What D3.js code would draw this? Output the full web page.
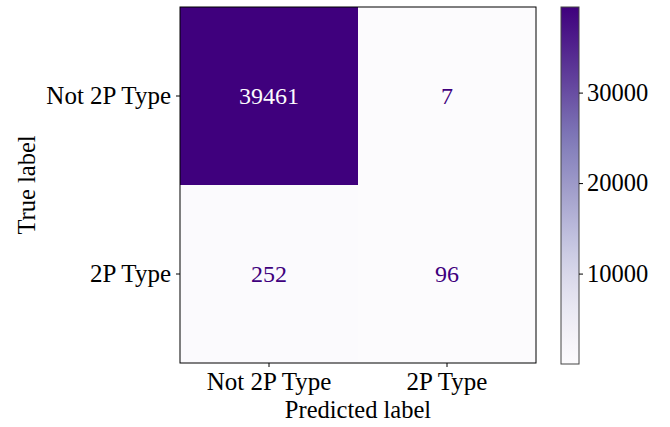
<!DOCTYPE html>
<html>
<head>
<meta charset="utf-8">
<script src="https://cdn.jsdelivr.net/npm/d3@7"></script>
<style>
  body { margin: 0; background: #fff; }
  text { font-family: "Liberation Serif", "DejaVu Serif", serif; }
</style>
</head>
<body>
<div id="chart"></div>
<script>
const trueLabels = ['Not 2P Type', '2P Type'];
const predLabels = ['Not 2P Type', '2P Type'];
const counts = [
  [39461, 7],
  [252, 96]
];
const cbarTicks = [10000, 20000, 30000];

const width = 670;
const height = 427;
const plot = {left: 180, top: 7, size: 356};
const cbar = {left: 561, width: 18, top: 7, bottom: 364};

const svg = d3.select('#chart')
  .append('svg')
  .attr('width', width)
  .attr('height', height);

const flat = counts.flat();
const vmin = d3.min(flat), vmax = d3.max(flat);
const color = d3.scaleSequential(d3.interpolatePurples).domain([vmin, vmax]);

const x = d3.scaleBand()
  .domain(d3.range(predLabels.length))
  .range([plot.left, plot.left + plot.size]);
const y = d3.scaleBand()
  .domain(d3.range(trueLabels.length))
  .range([plot.top, plot.top + plot.size]);

const cells = [];
counts.forEach((row, i) => row.forEach((v, j) => cells.push({i, j, v})));

svg.append('g')
  .selectAll('rect')
  .data(cells)
  .join('rect')
  .attr('x', d => x(d.j))
  .attr('y', d => y(d.i))
  .attr('width', x.bandwidth())
  .attr('height', y.bandwidth())
  .attr('fill', d => color(d.v));

const thresh = (vmax + vmin) / 2;
svg.append('g')
  .selectAll('text')
  .data(cells)
  .join('text')
  .attr('x', d => x(d.j) + x.bandwidth() / 2)
  .attr('y', d => y(d.i) + y.bandwidth() / 2)
  .attr('dy', '0.35em')
  .attr('text-anchor', 'middle')
  .attr('font-size', 24)
  .attr('fill', d => d.v > thresh ? '#fcfbfd' : '#3f007d')
  .text(d => d.v);

// frame
svg.append('rect')
  .attr('x', plot.left).attr('y', plot.top)
  .attr('width', plot.size).attr('height', plot.size)
  .attr('fill', 'none').attr('stroke', '#000').attr('stroke-width', 1);

function styleAxis(g) {
  g.select('.domain').remove();
  g.selectAll('.tick line').attr('stroke', '#000');
  g.selectAll('.tick text')
    .attr('fill', '#000')
    .attr('font-size', 25)
    .attr('font-family', '"Liberation Serif", serif');
}

svg.append('g')
  .attr('transform', `translate(0,${plot.top + plot.size})`)
  .call(d3.axisBottom(x).tickSize(4).tickPadding(5).tickFormat(i => predLabels[i]))
  .call(styleAxis);

svg.append('g')
  .attr('transform', `translate(${plot.left},0)`)
  .call(d3.axisLeft(y).tickSize(4).tickPadding(5).tickFormat(i => trueLabels[i]))
  .call(styleAxis);

svg.append('text')
  .attr('x', plot.left + plot.size / 2)
  .attr('y', 418)
  .attr('text-anchor', 'middle')
  .attr('font-size', 24.5)
  .text('Predicted label');

svg.append('text')
  .attr('transform', `translate(35,${plot.top + plot.size / 2}) rotate(-90)`)
  .attr('text-anchor', 'middle')
  .attr('font-size', 24.5)
  .text('True label');

// colorbar
const cy = d3.scaleLinear().domain([vmin, vmax]).range([cbar.bottom, cbar.top]);
const defs = svg.append('defs');
const grad = defs.append('linearGradient')
  .attr('id', 'cgrad')
  .attr('x1', 0).attr('y1', 1).attr('x2', 0).attr('y2', 0);
d3.range(0, 1.0001, 0.05).forEach(t => {
  grad.append('stop')
    .attr('offset', t)
    .attr('stop-color', d3.interpolatePurples(t));
});
svg.append('rect')
  .attr('x', cbar.left).attr('y', cbar.top)
  .attr('width', cbar.width).attr('height', cbar.bottom - cbar.top)
  .attr('fill', 'url(#cgrad)')
  .attr('stroke', '#444').attr('stroke-width', 1);

svg.append('g')
  .attr('transform', `translate(${cbar.left + cbar.width},0)`)
  .call(d3.axisRight(cy).tickValues(cbarTicks).tickSize(4).tickPadding(4).tickFormat(d3.format('d')))
  .call(g => {
    styleAxis(g);
    g.selectAll('.tick text').attr('font-size', 24.5);
  });
</script>
</body>
</html>
